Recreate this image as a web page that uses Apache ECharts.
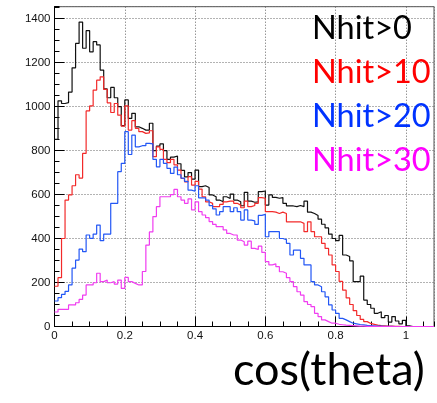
<!DOCTYPE html>
<html>
<head>
<meta charset="utf-8">
<script src="https://cdn.jsdelivr.net/npm/echarts@6/dist/echarts.min.js"></script>
<style>
  html, body { margin: 0; padding: 0; background: #fff; }
  #chart { width: 437px; height: 403px; }
</style>
</head>
<body>
<div id="chart"></div>
<script>
// cos(theta) distributions for increasing hit-count thresholds, 0.01-wide bins from 0
const BIN_WIDTH = 0.01;
const X_MAX = 1.08;
const Y_MAX = 1454;

const legendNames = ['Nhit>0', 'Nhit>10', 'Nhit>20', 'Nhit>30'];

const nhit0 = [
  851, 1026, 1014, 1018, 1066, 1176, 1287, 1384, 1265, 1345,
  1249, 1295, 1280, 1166, 1080, 1040, 1087, 1040, 1000, 913,
  1030, 946, 969, 908, 901, 893, 893, 924, 800, 820,
  830, 800, 760, 770, 775, 740, 710, 680, 700, 670,
  711, 636, 640, 632, 598, 590, 575, 567, 590, 582,
  602, 575, 567, 549, 610, 570, 565, 567, 613, 616,
  552, 598, 587, 583, 586, 560, 548, 548, 545, 550,
  545, 570, 520, 514, 505, 488, 465, 448, 420, 400,
  390, 414, 325, 318, 298, 204, 204, 229, 120, 100,
  83, 60, 67, 40, 50, 20, 45, 25, 12, 28,
  3, 0, 0, 0, 0, 0, 0, 0
];

const nhit10 = [
  183, 222, 400, 575, 598, 640, 690, 675, 787, 980,
  1003, 1075, 1120, 1135, 1078, 1017, 973, 1014, 961, 911,
  1003, 893, 936, 901, 886, 878, 880, 890, 772, 817,
  805, 760, 745, 760, 735, 711, 673, 658, 681, 643,
  660, 625, 590, 567, 560, 545, 545, 555, 567, 570,
  570, 560, 552, 540, 570, 545, 550, 560, 586, 583,
  522, 522, 520, 514, 520, 514, 476, 476, 476, 476,
  469, 431, 476, 431, 408, 408, 378, 355, 325, 280,
  250, 205, 165, 130, 100, 72, 50, 32, 22, 14,
  10, 6, 4, 3, 2, 2, 1, 1, 0, 0,
  0, 0, 0, 0, 0, 0, 0, 0
];

const nhit20 = [
  116, 131, 146, 160, 189, 265, 302, 352, 340, 416,
  401, 420, 461, 390, 420, 420, 560, 560, 704, 742,
  886, 782, 870, 817, 822, 822, 833, 830, 760, 726,
  760, 742, 719, 696, 725, 690, 675, 660, 620, 615,
  640, 585, 585, 575, 550, 535, 507, 522, 545, 545,
  522, 540, 522, 484, 530, 484, 480, 464, 505, 510,
  408, 431, 431, 431, 400, 395, 378, 325, 347, 347,
  310, 280, 280, 204, 189, 181, 158, 135, 98, 75,
  60, 37, 30, 22, 15, 12, 9, 7, 5, 4,
  3, 2, 2, 1, 1, 1, 0, 0, 0, 0,
  0, 0, 0, 0, 0, 0, 0, 0
];

const nhit30 = [
  66, 78, 78, 78, 98, 98, 108, 123, 143, 189,
  189, 199, 242, 204, 211, 199, 204, 193, 211, 173,
  223, 204, 196, 189, 189, 250, 370, 430, 500, 545,
  590, 590, 590, 600, 623, 590, 575, 560, 580, 530,
  567, 522, 507, 495, 477, 464, 454, 454, 439, 423,
  416, 416, 393, 385, 370, 388, 355, 350, 365, 337,
  295, 280, 285, 272, 249, 242, 222, 204, 181, 158,
  143, 113, 100, 90, 60, 45, 30, 22, 15, 15,
  10, 8, 6, 5, 4, 3, 2, 2, 1, 1,
  1, 0, 0, 0, 0, 0, 0, 0, 0, 0,
  0, 0, 0, 0, 0, 0, 0, 0
];

const seriesColors = ['#111111', '#f22a2a', '#2357f5', '#f03cf0'];
const legendColors = ['#000000', '#ff0000', '#0033ff', '#ff00ff'];

// turn bin contents into outline points: left edge of every bin plus the closing edge
function histPoints(counts) {
  const pts = counts.map((v, i) => [i * BIN_WIDTH, v]);
  pts.push([counts.length * BIN_WIDTH, counts[counts.length - 1]]);
  return pts;
}

const chart = echarts.init(document.getElementById('chart'), null, { renderer: 'canvas' });

const labelFont = { fontFamily: 'Liberation Sans', fontSize: 11.5, color: '#111' };
const gridDots = { show: true, lineStyle: { type: [1, 2], color: '#666', width: 1 } };
const plainNumber = v => String(Math.round(v * 1000) / 1000);

chart.setOption({
  animation: false,
  backgroundColor: '#fff',
  grid: {
    left: 54.5, right: 3, top: 6.7, bottom: 76.5,
    show: true, borderColor: '#555', borderWidth: 1, backgroundColor: 'transparent'
  },
  title: {
    text: 'cos(theta)',
    left: 233, top: 348, padding: 0,
    textStyle: { fontFamily: 'Lato', fontSize: 45, fontWeight: 'normal', color: '#000' }
  },
  legend: {
    orient: 'vertical',
    left: 307, top: 7, padding: 0,
    itemGap: 0, itemWidth: 0, itemHeight: 0,
    icon: 'none',
    selectedMode: false,
    textStyle: { fontFamily: 'Lato', fontSize: 32.5, lineHeight: 44 },
    data: legendNames.map((n, i) => ({ name: n, textStyle: { color: legendColors[i] } }))
  },
  xAxis: [
    {
      type: 'value', min: 0, max: X_MAX, interval: 0.2, position: 'bottom',
      axisLine: { show: true, onZero: false, lineStyle: { color: '#000', width: 1 } },
      axisTick: { show: true, inside: true, length: 10, lineStyle: { color: '#000' } },
      axisLabel: Object.assign({ showMaxLabel: false, margin: 3, formatter: plainNumber }, labelFont),
      splitLine: gridDots
    },
    {
      type: 'value', min: 0, max: X_MAX, interval: 0.05, position: 'bottom',
      axisLine: { show: false },
      axisTick: { show: true, inside: true, length: 5, lineStyle: { color: '#000' } },
      axisLabel: { show: false },
      splitLine: { show: false }
    }
  ],
  yAxis: [
    {
      type: 'value', min: 0, max: Y_MAX, interval: 200, position: 'left',
      axisLine: { show: true, onZero: false, lineStyle: { color: '#000', width: 1 } },
      axisTick: { show: true, inside: true, length: 10, lineStyle: { color: '#000' } },
      axisLabel: Object.assign({ showMaxLabel: false, margin: 4, formatter: plainNumber }, labelFont),
      splitLine: gridDots
    },
    {
      type: 'value', min: 0, max: Y_MAX, interval: 50, position: 'left',
      axisLine: { show: false },
      axisTick: { show: true, inside: true, length: 5, lineStyle: { color: '#000' } },
      axisLabel: { show: false },
      splitLine: { show: false }
    }
  ],
  series: [nhit0, nhit10, nhit20, nhit30].map((counts, i) => ({
    name: legendNames[i],
    type: 'line',
    step: 'end',
    xAxisIndex: 0,
    yAxisIndex: 0,
    symbol: 'none',
    data: histPoints(counts),
    lineStyle: { color: seriesColors[i], width: 1.2 },
    itemStyle: { color: seriesColors[i] },
    z: 3 + i
  }))
});
</script>
</body>
</html>
